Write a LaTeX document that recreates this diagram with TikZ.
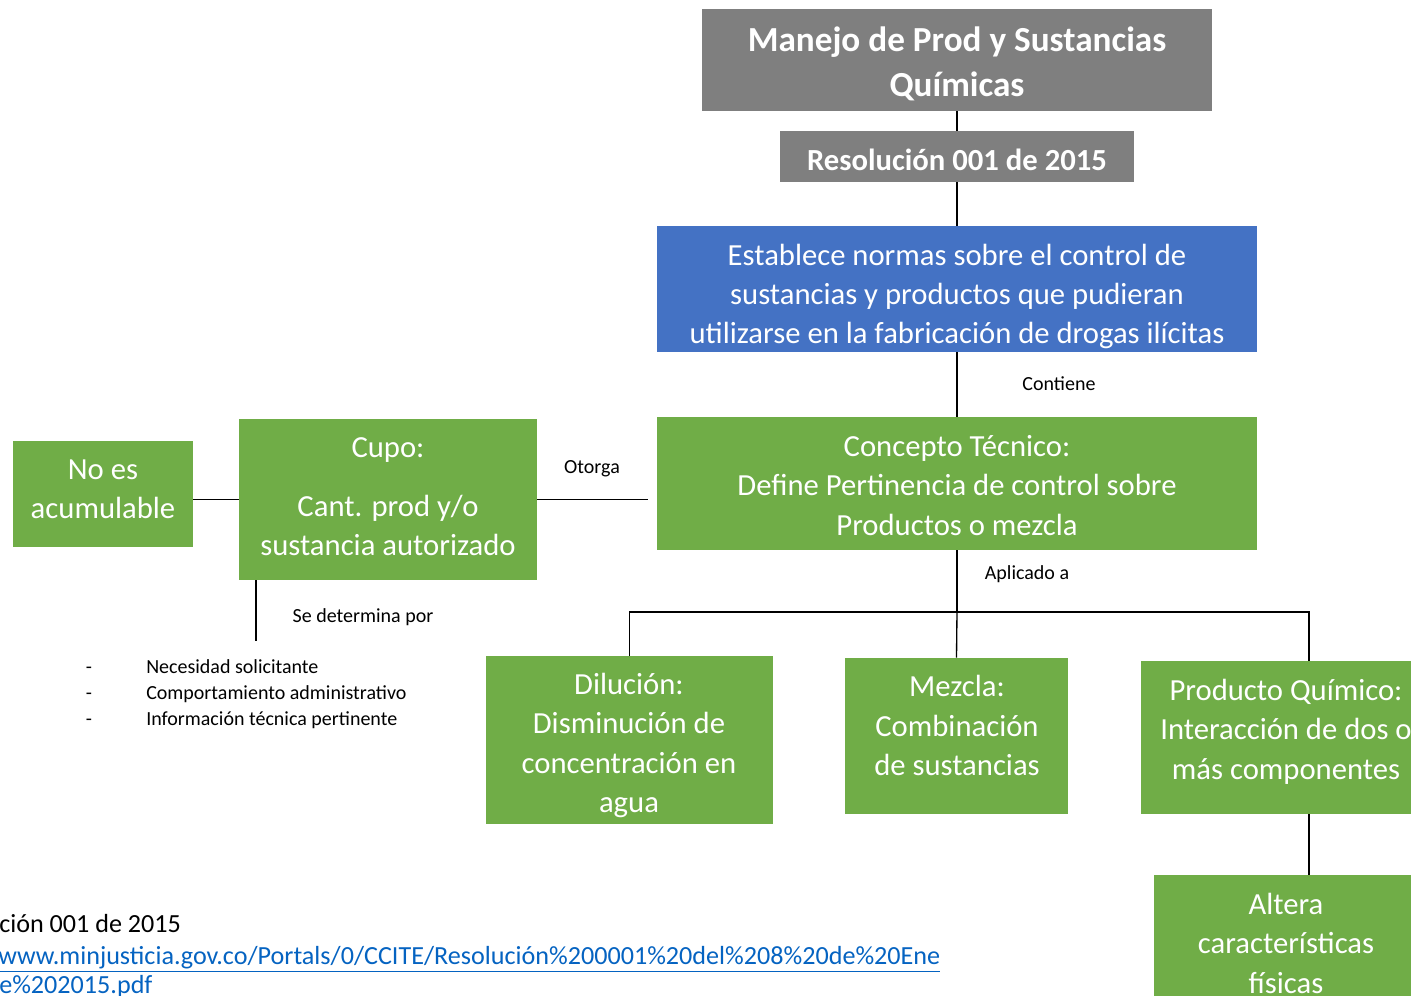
\documentclass[tikz,border=0pt]{standalone}
\usepackage{fontspec}
\setmainfont{Carlito}
\usetikzlibrary{fit}
\definecolor{gris}{RGB}{127,127,127}
\definecolor{azul}{RGB}{68,114,196}
\definecolor{verde}{RGB}{112,173,71}
\definecolor{enlace}{RGB}{5,99,193}
\tikzset{
  boxg/.style={fill=gris,draw=none,inner sep=0pt},
  boxb/.style={fill=azul,draw=none,inner sep=0pt},
  boxv/.style={fill=verde,draw=none,inner sep=0pt},
  btxt/.style={text=white,align=center,inner sep=0pt,font=\fontsize{23}{29.6}\selectfont},
  ttl/.style={text=white,align=center,inner sep=0pt,font=\bfseries\fontsize{26.4}{33.8}\selectfont},
  lbl/.style={text=black,inner sep=0pt,font=\fontsize{15}{18}\selectfont},
  conn/.style={draw=black,line width=1pt},
  src/.style={inner sep=0pt,anchor=west,font=\fontsize{19.6}{22}\selectfont}
}
\begin{document}
\begin{tikzpicture}[x=0.75pt,y=-0.75pt]
\useasboundingbox (0,0) rectangle (1411,996);
\clip (0,0) rectangle (1411,996);
% boxes
\node[boxg,fit={(702,9)(1212,111)}] (title) {};
\node[boxg,fit={(780,131)(1134,182)}] (res) {};
\node[boxb,fit={(657,226)(1257,352)}] (blue) {};
\node[boxv,fit={(657,417)(1257,550)}] (conc) {};
\node[boxv,fit={(239,419)(537,580)}] (cupo) {};
\node[boxv,fit={(13,441)(193,547)}] (noes) {};
\node[boxv,fit={(486,656)(773,824)}] (dil) {};
\node[boxv,fit={(845,658)(1068,814)}] (mez) {};
\node[boxv,fit={(1141,661)(1431,814)}] (prod) {};
\node[boxv,fit={(1154,875)(1418,1010)}] (alt) {};
% texts
\node[ttl] (titleT) at (957,63.5) {Manejo de Prod y Sustancias\\Químicas};
\node[ttl,font=\bfseries\fontsize{23}{27}\selectfont] (resT) at (957,159.5) {Resolución 001 de 2015};
\node[btxt] (blueT) at (957,296.5) {Establece normas sobre el control de\\sustancias y productos que pudieran\\utilizarse en la fabricación de drogas ilícitas};
\node[btxt] (concT) at (957,485.5) {Concepto Técnico:\\Define Pertinencia de control sobre\\Productos o mezcla};
\node[btxt] (cupoT) at (388,497) {Cupo:\\[14.5pt]Cant. prod y/o\\sustancia autorizado};
\node[btxt] (noesT) at (103,489.5) {No es\\acumulable};
\node[btxt] (dilT) at (629,745.5) {Dilución:\\Disminución de\\concentración en\\agua};
\node[btxt] (mezT) at (957,725.5) {Mezcla:\\Combinación\\de sustancias};
\node[btxt] (prodT) at (1286,731.5) {Producto Químico:\\Interacción de dos o\\más componentes};
\node[btxt] (altT) at (1286,943) {Altera\\características\\físicas};
% labels
\node[lbl] (lcont) at (1059,384) {Contiene};
\node[lbl] (lotor) at (592,469) {Otorga};
\node[lbl] (lapl) at (1027,574) {Aplicado a};
\node[lbl] (ldet) at (363,617) {Se determina por};
\node[lbl,anchor=base] (d1) at (89,673) {-};
\node[lbl,anchor=base] (d2) at (89,699) {-};
\node[lbl,anchor=base] (d3) at (89,725) {-};
\node[lbl,anchor=base west] (b1) at (146,673) {Necesidad solicitante};
\node[lbl,anchor=base west] (b2) at (146,699) {Comportamiento administrativo};
\node[lbl,anchor=base west] (b3) at (146,725) {Información técnica pertinente};
% source
\node[src] (s1) at (-1,924) {ción 001 de 2015};
\node[src,text=enlace] (s2) at (-2,959) {\underline{www.minjusticia.gov.co/Portals/0/CCITE/Resolución\%200001\%20del\%208\%20de\%20Ene}};
\node[src,text=enlace] (s3) at (-1,988) {\underline{e\%202015.pdf}};
% connectors
\coordinate (otE) at (648,499.5);
\coordinate (sd) at (256,641);
\coordinate (br) at (957,612);
\coordinate (pt) at (1309,612);
\draw[conn] (title.south) -- (res.north);
\draw[conn] (res.south) -- (blue.north);
\draw[conn] (blue.south) -- (conc.north);
\draw[conn] (cupo.east) -- (otE);
\draw[conn] (noes.east |- cupo.west) -- (cupo.west);
\draw[conn] (cupo.south -| sd) -- (sd);
\draw[conn] (conc.south) -- (br);
\draw[conn] (dil.north) |- (pt) -- (pt |- prod.north);
\draw[conn] (br) -- (mez.north);
\draw[conn] (pt |- prod.south) -- (pt |- alt.north);
\end{tikzpicture}
\end{document}
